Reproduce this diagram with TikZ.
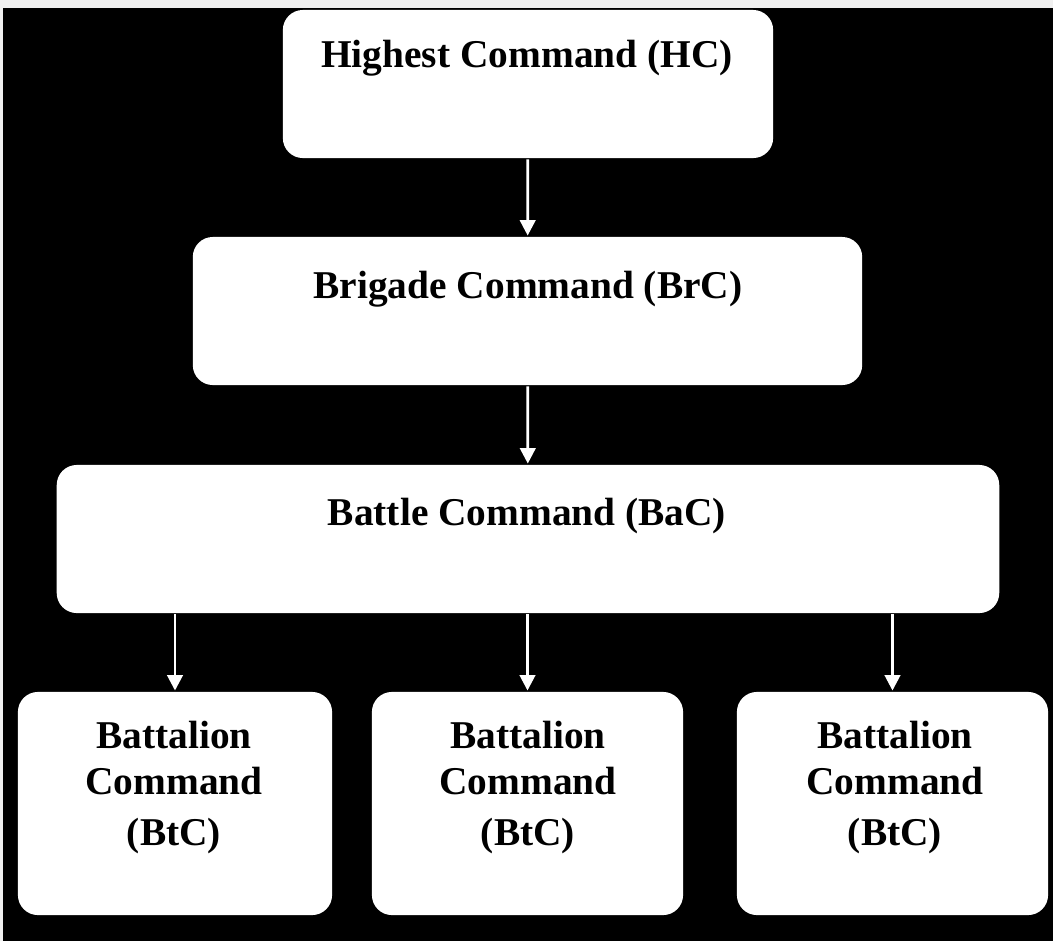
\documentclass[tikz,border=0pt]{standalone}
\usepackage{fontspec}
\setmainfont{Liberation Serif}
\usetikzlibrary{arrows.meta}

\begin{document}
\begin{tikzpicture}[x=.01cm,y=-.01cm,line width=.8pt,
  cmdbox/.style={fill=white,rounded corners=.2cm,inner sep=0pt},
  cmdtext/.style={font=\fontsize{11.2}{13.1}\selectfont\bfseries,align=center,inner sep=0pt},
  cmdarrow/.style={draw=white,-{Triangle[width=4.4pt,length=4.4pt]}}]
\useasboundingbox (0,0) rectangle (1053,941);
\fill[black!6] (0,0) rectangle (1053,941);
\fill[black] (3,8) rectangle (1053,941);
% boxes
\node[cmdbox,minimum width=4.9cm,minimum height=1.48cm] (hc) at (528,84) {};
\node[cmdbox,minimum width=6.69cm,minimum height=1.48cm] (brc) at (527.5,311) {};
\node[cmdbox,minimum width=9.42cm,minimum height=1.48cm] (bac) at (528,539) {};
\node[cmdbox,minimum width=3.14cm,minimum height=2.23cm] (bt1) at (175,803.5) {};
\node[cmdbox,minimum width=3.11cm,minimum height=2.23cm] (bt2) at (527.5,803.5) {};
\node[cmdbox,minimum width=3.11cm,minimum height=2.23cm] (bt3) at (892.5,803.5) {};
% texts
\node[cmdtext,anchor=base] (hctext) at (527,67) {Highest Command (HC)};
\node[cmdtext,anchor=base] (brctext) at (528,298) {Brigade Command (BrC)};
\node[cmdtext,anchor=base] (bactext) at (527,525) {Battle Command (BaC)};
\node[cmdtext] (bt1text) at (174,787.5) {Battalion\\Command\\[1.5pt](BtC)};
\node[cmdtext] (bt2text) at (528,787.5) {Battalion\\Command\\[1.5pt](BtC)};
\node[cmdtext] (bt3text) at (895,787.5) {Battalion\\Command\\[1.5pt](BtC)};
% arrows
\draw[cmdarrow] (hc) -- (brc);
\draw[cmdarrow] (brc) -- (bac);
\draw[cmdarrow] (bac.south -| bt1.north) -- (bt1.north);
\draw[cmdarrow] (bac.south -| bt2.north) -- (bt2.north);
\draw[cmdarrow] (bac.south -| bt3.north) -- (bt3.north);
\end{tikzpicture}
\end{document}
